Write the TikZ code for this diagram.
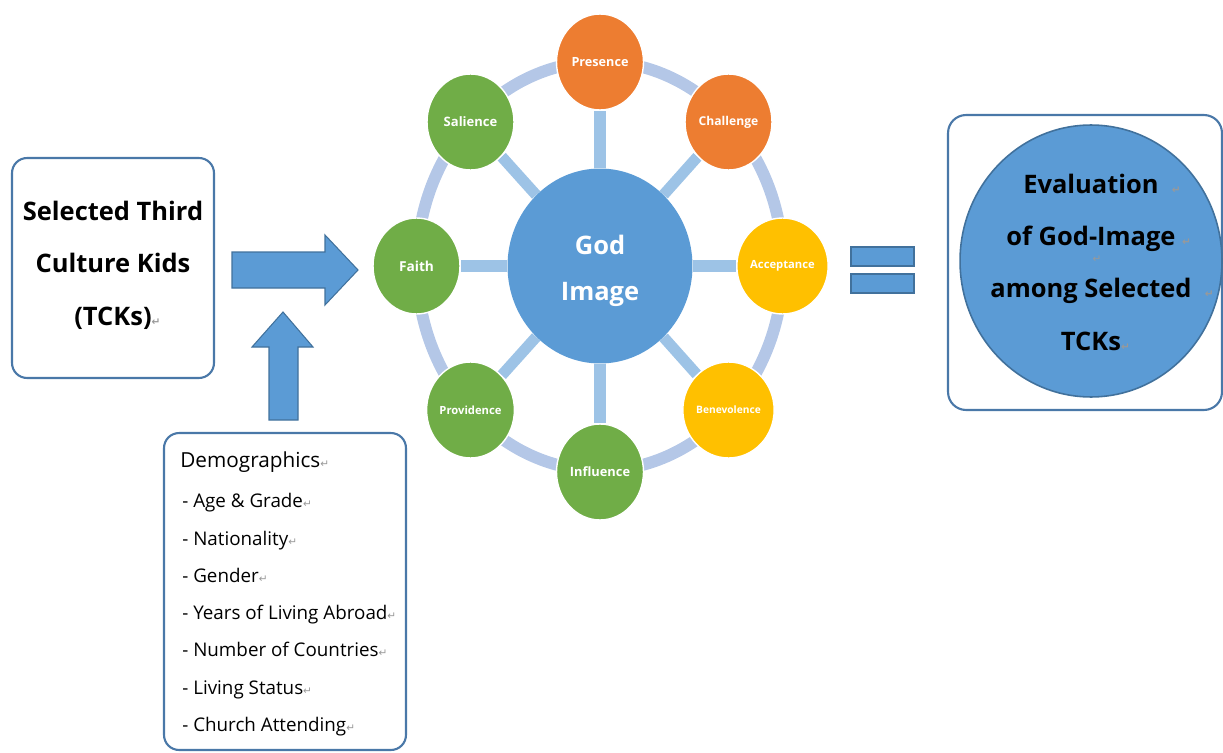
\documentclass[tikz,border=0pt]{standalone}
\usepackage{fontspec}
\setmainfont{Open Sans}
\newfontfamily\dvfont{DejaVu Sans}
\usetikzlibrary{shapes.geometric,backgrounds}
\definecolor{mblue}{HTML}{5B9BD5}
\definecolor{dblue}{HTML}{41719C}
\definecolor{boxb}{HTML}{4A78A8}
\definecolor{ringc}{HTML}{B4C7E7}
\definecolor{spokec}{HTML}{9DC3E6}
\definecolor{morange}{HTML}{ED7D31}
\definecolor{mgreen}{HTML}{70AD47}
\definecolor{myellow}{HTML}{FFC000}
\newcommand\retm{{\dvfont\fontsize{6pt}{6pt}\selectfont\color{gray!80}↵}}
\newcommand\fs[1]{\fontsize{#1}{#1}\selectfont}
\begin{document}
\begin{tikzpicture}[x=0.02cm,y=-0.02cm,
  sat/.style={ellipse,draw=white,line width=0.8pt,minimum width=1.74cm,minimum height=1.92cm,inner sep=0pt,text=white},
  ring/.style={draw=ringc,line width=6.8pt},
  spoke/.style={draw=spokec,line width=6.3pt},
  bigarrow/.style={fill=mblue,draw=dblue,line width=0.6pt,line join=miter},
  roundbox/.style={draw=boxb,line width=1.2pt,rounded corners=0.3cm,inner sep=0pt},
  bigtext/.style={align=center,font=\bfseries\fontsize{14.5pt}{29.8pt}\selectfont,inner sep=0pt},
  demo/.style={anchor=west,inner sep=0pt,text height=1.55ex,text depth=0.45ex,font=\fs{10.7pt}}
]
\useasboundingbox (0,0) rectangle (1223,753);

% left box
\node[roundbox,minimum width=4.04cm,minimum height=4.4cm] (tck) at (113,268) {};
\node[bigtext] (tcktext) at (113,265) {Selected Third\\Culture Kids\\(TCKs)\rlap{\retm}};

% arrows
\draw[bigarrow] (232,252) -- (325,252) -- (325,235) -- (358,270) -- (325,305) -- (325,288) -- (232,288) -- cycle;
\draw[bigarrow] (269,420) -- (269,347) -- (252,347) -- (283,312) -- (313,347) -- (298,347) -- (298,420) -- cycle;

% demographics box
\node[roundbox,minimum width=4.84cm,minimum height=6.34cm] (demo) at (285,591.5) {};
\node[demo,font=\fs{11.8pt}] (d0) at (180,462) {Demographics\retm};
\node[demo] (d1) at (182,502) {- Age \& Grade\retm};
\node[demo] (d2) at (182,540) {- Nationality\retm};
\node[demo] (d3) at (182,577) {- Gender\retm};
\node[demo] (d4) at (182,614) {- Years of Living Abroad\retm};
\node[demo] (d5) at (182,651) {- Number of Countries\retm};
\node[demo] (d6) at (182,689) {- Living Status\retm};
\node[demo] (d7) at (182,726) {- Church Attending\retm};

% wheel
\node[ellipse,fill=mblue,minimum width=3.7cm,minimum height=3.9cm,inner sep=0pt] (G) at (600,266) {};
\node[text=white,align=center,inner sep=0pt,font=\bfseries\fontsize{14.5pt}{26pt}\selectfont] (gtext) at (600,271) {God\\Image};
\node[sat,fill=morange,font=\bfseries\fs{7.2pt}] (pres) at (600,62) {Presence};
\node[sat,fill=morange,font=\bfseries\fs{6.9pt}] (chal) at (728.5,122) {Challenge};
\node[sat,fill=myellow,font=\bfseries\fs{6.4pt}] (acc) at (782.5,266) {Acceptance};
\node[sat,fill=myellow,font=\bfseries\fs{5.8pt}] (bene) at (728.5,410) {Benevolence};
\node[sat,fill=mgreen,font=\bfseries\fs{7.3pt}] (infl) at (600,472) {Influence};
\node[sat,fill=mgreen,font=\bfseries\fs{6.4pt}] (prov) at (470.5,410) {Providence};
\node[sat,fill=mgreen,font=\bfseries\fs{7.8pt}] (faith) at (416.5,266) {Faith};
\node[sat,fill=mgreen,font=\bfseries\fs{7.4pt}] (sal) at (470.5,122) {Salience};
\begin{pgfonlayer}{background}
  \draw[ring] (G.center) ellipse [x radius=3.66cm, y radius=4.09cm];
  \foreach \s in {pres,chal,acc,bene,infl,prov,faith,sal}
    \draw[spoke] (G) -- (\s);
\end{pgfonlayer}

% equals sign
\draw[bigarrow] (851,247) rectangle (914,266);
\draw[bigarrow] (851,274) rectangle (914,293);

% right box
\node[roundbox,rounded corners=0.36cm,minimum width=5.48cm,minimum height=5.9cm] (evalbox) at (1085,262.5) {};
\node[ellipse,fill=mblue,draw=dblue,line width=0.9pt,minimum width=5.24cm,minimum height=5.44cm,inner sep=0pt] (evalc) at (1091,261) {};
\node[bigtext] (evaltext) at (1091,262) {Evaluation\rlap{\ \ \retm}\\of God-Image\rlap{\ \retm}\\among Selected\rlap{\ \ \retm}\\TCKs\rlap{\retm}};
\node[inner sep=0pt,font=\fs{5pt}] (stray) at (1097,259) {\retm};
\end{tikzpicture}
\end{document}
